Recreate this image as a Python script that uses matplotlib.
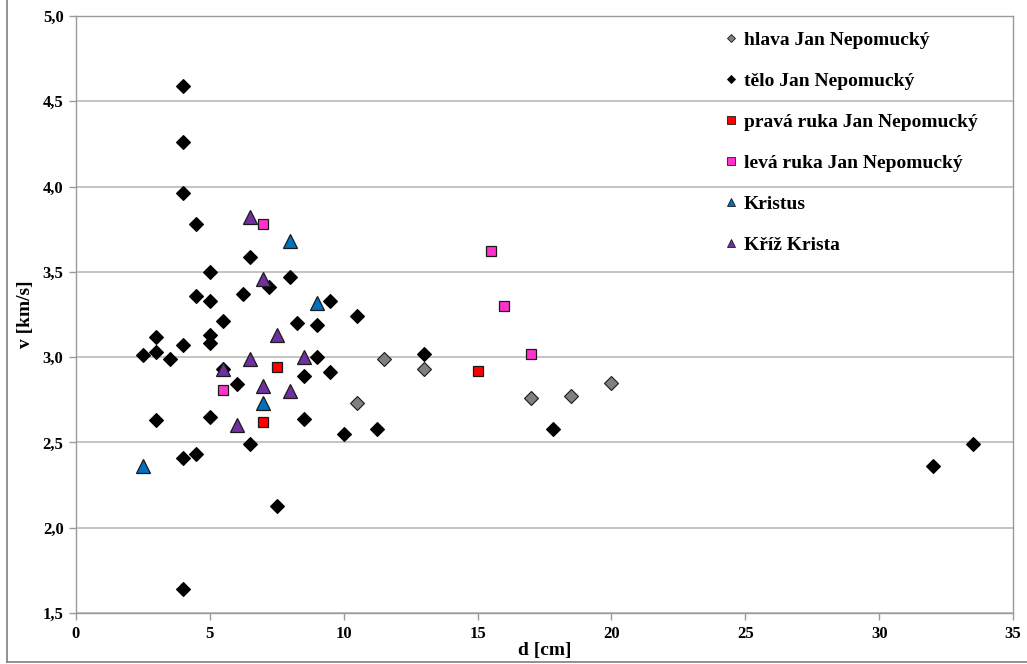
import matplotlib
matplotlib.use("Agg")
import matplotlib.pyplot as plt
from matplotlib.lines import Line2D
from matplotlib.ticker import FuncFormatter

plt.rcParams['font.family'] = ['Liberation Serif', 'DejaVu Serif']
plt.rcParams['font.weight'] = 'bold'

# d [cm], v [km/s] for each measured part
hlava_d = [10.5, 11.5, 13.0, 17.0, 18.5, 20.0]
hlava_v = [2.73, 2.99, 2.93, 2.76, 2.77, 2.85]

telo_d = [4.0, 4.0, 4.0, 4.5, 6.5, 5.0, 8.0, 7.2, 4.5, 5.0, 6.25, 9.5, 10.5, 5.5,
          8.25, 9.0, 3.0, 5.0, 5.0, 4.0, 2.5, 3.0, 3.5, 5.5, 9.0, 13.0, 8.5, 9.5,
          6.0, 3.0, 5.0, 8.5, 10.0, 11.25, 17.8, 6.5, 4.0, 4.5, 7.5, 4.0, 32.0, 33.5]
telo_v = [4.59, 4.26, 3.96, 3.78, 3.59, 3.50, 3.47, 3.41, 3.36, 3.33, 3.37, 3.33, 3.24, 3.21,
          3.20, 3.19, 3.12, 3.13, 3.08, 3.07, 3.01, 3.03, 2.99, 2.93, 3.00, 3.02, 2.89, 2.91,
          2.84, 2.63, 2.65, 2.64, 2.55, 2.58, 2.58, 2.49, 2.41, 2.43, 2.13, 1.64, 2.36, 2.49]

prava_d = [7.5, 7.0, 15.0]
prava_v = [2.94, 2.62, 2.92]

leva_d = [7.0, 5.5, 15.5, 16.0, 17.0]
leva_v = [3.78, 2.81, 3.62, 3.30, 3.02]

kristus_d = [8.0, 9.0, 7.0, 2.5]
kristus_v = [3.68, 3.32, 2.73, 2.36]

kriz_d = [6.5, 7.0, 7.5, 5.5, 6.5, 8.5, 7.0, 8.0, 6.0]
kriz_v = [3.82, 3.46, 3.13, 2.93, 2.99, 3.00, 2.83, 2.80, 2.60]

x_ticks = [0, 5, 10, 15, 20, 25, 30, 35]
y_ticks = [1.5, 2.0, 2.5, 3.0, 3.5, 4.0, 4.5, 5.0]

fig = plt.figure(figsize=(10.27, 6.64), dpi=100)
ax = fig.add_axes([76 / 1027, 1 - 613 / 664, (1013 - 76) / 1027, (613 - 16) / 664])

edge = '#1a1a1a'
ax.plot(hlava_d, hlava_v, 'D', ms=6.8, mfc='#808080', mec=edge, mew=0.8,
        label='hlava Jan Nepomucký', zorder=3)
ax.plot(telo_d, telo_v, 'D', ms=6.8, mfc='black', mec='black', mew=0.8,
        label='tělo Jan Nepomucký', zorder=3)
ax.plot(prava_d, prava_v, 's', ms=7, mfc='#ff0000', mec=edge, mew=0.9,
        label='pravá ruka Jan Nepomucký', zorder=3)
ax.plot(leva_d, leva_v, 's', ms=7, mfc='#ff33cc', mec=edge, mew=0.9,
        label='levá ruka Jan Nepomucký', zorder=3)
ax.plot(kristus_d, kristus_v, '^', ms=10, mfc='#0070c0', mec=edge, mew=0.9,
        label='Kristus', zorder=3)
ax.plot(kriz_d, kriz_v, '^', ms=10, mfc='#7030a0', mec=edge, mew=0.9,
        label='Kříž Krista', zorder=3)

ax.set_xlim(0, 35)
ax.set_ylim(1.5, 5.0)
ax.set_xticks(x_ticks)
ax.set_yticks(y_ticks)
ax.yaxis.set_major_formatter(FuncFormatter(lambda v, p: f"{v:.1f}".replace('.', ',')))
ax.xaxis.set_major_formatter(FuncFormatter(lambda v, p: f"{int(v)}"))

ax.grid(axis='y', color='#c4c4c4', linewidth=1.4, zorder=0)
ax.set_axisbelow(True)
for s in ax.spines.values():
    s.set_color('#9a9a9a')
    s.set_linewidth(1.0)
ax.tick_params(axis='both', direction='out', length=5, width=1, color='#9a9a9a',
               labelsize=12, pad=4)
for lbl in ax.get_xticklabels() + ax.get_yticklabels():
    lbl.set_fontweight('bold')

ax.set_xlabel('d [cm]', fontsize=14, fontweight='bold', labelpad=0)
ax.set_ylabel('v [km/s]', fontsize=14, fontweight='bold', labelpad=6)

leg = ax.legend(loc='upper left', bbox_to_anchor=(0.693, 0.974), frameon=False,
                fontsize=14, handlelength=0.6, handletextpad=0.35,
                labelspacing=1.2, borderpad=0, borderaxespad=0)
legend_sizes = [4.3, 4.3, 5.8, 5.8, 6.2, 6.2]
for h, size in zip(leg.legend_handles, legend_sizes):
    h.set_markersize(size)
    h.set_markeredgewidth(0.6)
for t in leg.get_texts():
    t.set_fontweight('bold')

# outer chart frame (left and bottom edges)
frame_kw = dict(transform=fig.transFigure, color='#7f7f7f', linewidth=1.2)
fig.lines.append(Line2D([7 / 1027, 7 / 1027], [2 / 664, 1.0], **frame_kw))
fig.lines.append(Line2D([7 / 1027, 1.0], [2 / 664, 2 / 664], **frame_kw))

fig.savefig('out.png', dpi=100)
